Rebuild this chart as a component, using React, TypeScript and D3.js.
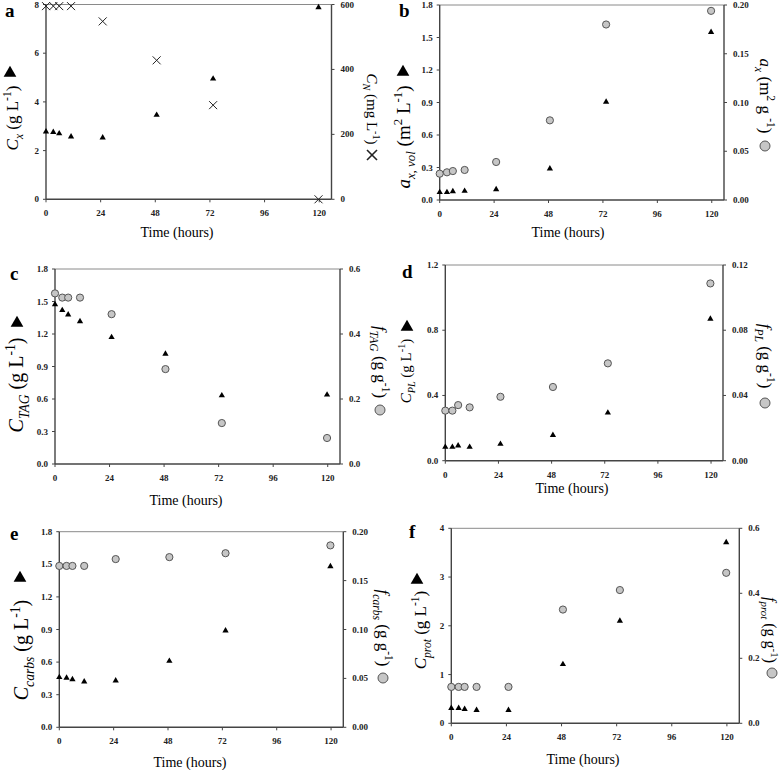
import React from "react";
import * as d3 from "d3";

// ---------- DATA ----------
const hours = [0, 3.2, 5.8, 11, 24.9, 48.6, 73.4, 119.7];
const xTicks = [0, 24, 48, 72, 96, 120];

// a
const biomassCx = [2.78, 2.76, 2.7, 2.57, 2.53, 3.46, 4.95, 7.88];
const nitrogenCN = [595, 595, 595, 595, 548, 428, 290, 0];
const aLeftTicks = [0, 2, 4, 6, 8];
const aRightTicks = [0, 200, 400, 600];
// b
const areaVol = [0.071, 0.071, 0.08, 0.083, 0.098, 0.29, 0.905, 1.55];
const areaSpecific = [0.027, 0.0284, 0.0297, 0.0308, 0.039, 0.0817, 0.18, 0.194];
const bLeftTicks = [0, 0.3, 0.6, 0.9, 1.2, 1.5, 1.8];
const bRightTicks = [0, 0.05, 0.1, 0.15, 0.2];
// c
const tagC = [1.474, 1.419, 1.379, 1.317, 1.17, 1.017, 0.632, 0.639];
const tagF = [0.525, 0.512, 0.512, 0.512, 0.461, 0.292, 0.126, 0.08];
const cLeftTicks = [0, 0.3, 0.6, 0.9, 1.2, 1.5, 1.8];
const cRightTicks = [0, 0.2, 0.4, 0.6];
// d
const plC = [0.084, 0.084, 0.092, 0.084, 0.102, 0.157, 0.294, 0.87];
const plF = [0.0307, 0.0307, 0.0341, 0.0327, 0.0392, 0.0452, 0.0597, 0.1087];
const dLeftTicks = [0, 0.4, 0.8, 1.2];
const dRightTicks = [0, 0.04, 0.08, 0.12];
// e
const carbsC = [0.46, 0.455, 0.44, 0.42, 0.43, 0.61, 0.89, 1.48];
const carbsF = [0.165, 0.165, 0.165, 0.165, 0.172, 0.174, 0.178, 0.186];
const eLeftTicks = [0, 0.3, 0.6, 0.9, 1.2, 1.5, 1.8];
const eRightTicks = [0, 0.05, 0.1, 0.15, 0.2];
// f
const protC = [0.31, 0.31, 0.29, 0.27, 0.27, 1.21, 2.1, 3.71];
const protF = [0.112, 0.112, 0.112, 0.112, 0.112, 0.35, 0.41, 0.463];
const fLeftTicks = [0, 1, 2, 3, 4];
const fRightTicks = [0, 0.2, 0.4, 0.6];

// ---------- STYLE ----------
const FONT = "'Liberation Serif', 'Times New Roman', Times, serif";
const AXIS = "#444";

type Part = { t: string; i?: boolean; sub?: boolean; sup?: boolean };

function Rich({ parts, fs }: { parts: Part[]; fs: number }) {
  let cur = 0;
  return (
    <>
      {parts.map((p, k) => {
        const target = p.sub ? 0.28 * fs : p.sup ? -0.4 * fs : 0;
        const dy = target - cur;
        cur = target;
        return (
          <tspan
            key={k}
            dy={dy}
            fontStyle={p.i ? "italic" : "normal"}
            fontSize={p.sub || p.sup ? fs * 0.68 : fs}
          >
            {p.t}
          </tspan>
        );
      })}
    </>
  );
}

const TRI = d3.symbol(d3.symbolTriangle);

function Panel(cfg: any) {
  const { box, leftDomain, rightDomain, leftTicks, rightTicks, leftFmt, rightFmt, left, right, rightMarker } = cfg;
  const x = d3.scaleLinear().domain([0, 125.4]).range([box.x0, box.x1]);
  const yL = d3.scaleLinear().domain(leftDomain).range([box.y1, box.y0]);
  const yR = d3.scaleLinear().domain(rightDomain).range([box.y1, box.y0]);
  const tri = TRI.size(17)() as string;
  const bigTri = TRI.size(70)() as string;
  return (
    <g fontFamily={FONT}>
      {/* frame */}
      <line x1={box.x0} x2={box.x1} y1={box.y0} y2={box.y0} stroke="#8a8a8a" strokeWidth={1} />
      <line x1={box.x0} x2={box.x1} y1={box.y1} y2={box.y1} stroke={AXIS} strokeWidth={1.4} />
      <line x1={box.x0} x2={box.x0} y1={box.y0} y2={box.y1} stroke={AXIS} strokeWidth={1.4} />
      <line x1={box.x1} x2={box.x1} y1={box.y0} y2={box.y1} stroke={AXIS} strokeWidth={1.4} />
      {/* x ticks */}
      {xTicks.map((t) => (
        <g key={"x" + t}>
          <line x1={x(t)} x2={x(t)} y1={box.y1} y2={box.y1 + 3} stroke={AXIS} />
          <text x={x(t)} y={box.y1 + 17} textAnchor="middle" fontSize={9} fontWeight="bold" fill="#222">
            {t}
          </text>
        </g>
      ))}
      {leftTicks.map((t: number) => (
        <g key={"l" + t}>
          <line x1={box.x0 - 3} x2={box.x0} y1={yL(t)} y2={yL(t)} stroke={AXIS} />
          <text x={box.x0 - 7} y={yL(t) + 3} textAnchor="end" fontSize={9} fontWeight="bold" fill="#222">
            {leftFmt(t)}
          </text>
        </g>
      ))}
      {rightTicks.map((t: number) => (
        <g key={"r" + t}>
          <line x1={box.x1} x2={box.x1 + 3} y1={yR(t)} y2={yR(t)} stroke={AXIS} />
          <text x={box.x1 + 9} y={yR(t) + 3} textAnchor="start" fontSize={9} fontWeight="bold" fill="#222">
            {rightFmt(t)}
          </text>
        </g>
      ))}
      {/* right series */}
      {right.map((v: number, k: number) =>
        rightMarker === "x" ? (
          <g key={"rv" + k} transform={`translate(${x(hours[k])},${yR(v)})`} stroke="#222" strokeWidth={1}>
            <line x1={-4} y1={-4} x2={4} y2={4} />
            <line x1={-4} y1={4} x2={4} y2={-4} />
          </g>
        ) : (
          <circle key={"rv" + k} cx={x(hours[k])} cy={yR(v)} r={3.6} fill="#c6c6c6" stroke="#555" strokeWidth={1} />
        )
      )}
      {/* left series */}
      {left.map((v: number, k: number) => (
        <path key={"lv" + k} d={tri} transform={`translate(${x(hours[k])},${yL(v)})`} fill="#000" />
      ))}
      {/* panel letter */}
      <text x={cfg.letter.x} y={cfg.letter.y} fontSize={19} fontWeight="bold">
        {cfg.letter.t}
      </text>
      {/* x title */}
      <text x={cfg.xTitle.x} y={cfg.xTitle.y} fontSize={14} textAnchor="middle">
        Time (hours)
      </text>
      {/* left title */}
      <text transform={`translate(${cfg.lt.x},${cfg.lt.y}) rotate(-90)`} textAnchor="middle">
        <Rich parts={cfg.lt.parts} fs={cfg.lt.fs} />
      </text>
      <path d={bigTri} transform={`translate(${cfg.lt.mx},${cfg.lt.my})`} fill="#000" />
      {/* right title */}
      <text transform={`translate(${cfg.rt.x},${cfg.rt.y}) rotate(90)`} textAnchor="middle">
        <Rich parts={cfg.rt.parts} fs={cfg.rt.fs} />
      </text>
      {rightMarker === "x" ? (
        <g transform={`translate(${cfg.rt.mx},${cfg.rt.my})`} stroke="#222" strokeWidth={1.6}>
          <line x1={-5} y1={-5} x2={5} y2={5} />
          <line x1={-5} y1={5} x2={5} y2={-5} />
        </g>
      ) : (
        <circle cx={cfg.rt.mx} cy={cfg.rt.my} r={5} fill="#c6c6c6" stroke="#555" strokeWidth={1} />
      )}
    </g>
  );
}

const f0 = (v: number) => d3.format("d")(v);
const f1 = (v: number) => v.toFixed(1);
const f2 = (v: number) => v.toFixed(2);

const gL: Part[] = [{ t: " (g L" }, { t: "-1", sup: true }, { t: ")" }];
const gg: Part[] = [{ t: " (g g" }, { t: "-1", sup: true }, { t: ")" }];

export default function App() {
  const panels = [
    {
      box: { x0: 46, x1: 331.5, y0: 4.5, y1: 199.3 },
      leftDomain: [0, 8], rightDomain: [0, 600], leftTicks: aLeftTicks, rightTicks: aRightTicks,
      leftFmt: f0, rightFmt: f0, left: biomassCx, right: nitrogenCN, rightMarker: "x",
      letter: { t: "a", x: 5, y: 17 }, xTitle: { x: 177, y: 237 },
      lt: { x: 18, y: 118, fs: 17, mx: 10, my: 73, parts: [{ t: "C", i: true }, { t: "x", i: true, sub: true }, ...gL] },
      rt: { x: 367, y: 109, fs: 15, mx: 372, my: 155, parts: [{ t: "C", i: true }, { t: "N", i: true, sub: true }, { t: " (mg L" }, { t: "-1", sup: true }, { t: ")" }] },
    },
    {
      box: { x0: 439.7, x1: 724, y0: 5, y1: 200 },
      leftDomain: [0, 1.8], rightDomain: [0, 0.2], leftTicks: bLeftTicks, rightTicks: bRightTicks,
      leftFmt: f1, rightFmt: f2, left: areaVol, right: areaSpecific, rightMarker: "o",
      letter: { t: "b", x: 399, y: 17 }, xTitle: { x: 568, y: 237 },
      lt: { x: 410, y: 137, fs: 19, mx: 403, my: 72, parts: [{ t: "a", i: true }, { t: "x, vol", i: true, sub: true }, { t: " (m" }, { t: "2", sup: true }, { t: " L" }, { t: "-1", sup: true }, { t: ")" }] },
      rt: { x: 760, y: 96, fs: 17, mx: 765, my: 146, parts: [{ t: "a", i: true }, { t: "x", i: true, sub: true }, { t: " (m" }, { t: "2", sup: true }, { t: " g " }, { t: "-1", sup: true }, { t: ")" }] },
    },
    {
      box: { x0: 55, x1: 340, y0: 269, y1: 464 },
      leftDomain: [0, 1.8], rightDomain: [0, 0.6], leftTicks: cLeftTicks, rightTicks: cRightTicks,
      leftFmt: f1, rightFmt: f1, left: tagC, right: tagF, rightMarker: "o",
      letter: { t: "c", x: 10, y: 280 }, xTitle: { x: 186, y: 505 },
      lt: { x: 23, y: 385, fs: 20, mx: 17, my: 323, parts: [{ t: "C", i: true }, { t: "TAG", i: true, sub: true }, ...gL] },
      rt: { x: 375, y: 362, fs: 17, mx: 380, my: 410, parts: [{ t: "f", i: true }, { t: "TAG", i: true, sub: true }, ...gg] },
    },
    {
      box: { x0: 445.3, x1: 723, y0: 265, y1: 460.7 },
      leftDomain: [0, 1.2], rightDomain: [0, 0.12], leftTicks: dLeftTicks, rightTicks: dRightTicks,
      leftFmt: f1, rightFmt: f2, left: plC, right: plF, rightMarker: "o",
      letter: { t: "d", x: 402, y: 278 }, xTitle: { x: 572, y: 493 },
      lt: { x: 411, y: 371, fs: 15, mx: 407, my: 327, parts: [{ t: "C", i: true }, { t: "PL", i: true, sub: true }, ...gL] },
      rt: { x: 760, y: 356, fs: 17, mx: 765, my: 403, parts: [{ t: "f", i: true }, { t: "PL", i: true, sub: true }, ...gg] },
    },
    {
      box: { x0: 59.3, x1: 343.3, y0: 531.7, y1: 727.3 },
      leftDomain: [0, 1.8], rightDomain: [0, 0.2], leftTicks: eLeftTicks, rightTicks: eRightTicks,
      leftFmt: f1, rightFmt: f2, left: carbsC, right: carbsF, rightMarker: "o",
      letter: { t: "e", x: 10, y: 540 }, xTitle: { x: 190, y: 767 },
      lt: { x: 28, y: 650, fs: 20, mx: 20, my: 578, parts: [{ t: "C", i: true }, { t: "carbs", i: true, sub: true }, ...gL] },
      rt: { x: 378, y: 628, fs: 17, mx: 383, my: 678, parts: [{ t: "f", i: true }, { t: "carbs", i: true, sub: true }, ...gg] },
    },
    {
      box: { x0: 451.3, x1: 739.3, y0: 528.3, y1: 723.3 },
      leftDomain: [0, 4], rightDomain: [0, 0.6], leftTicks: fLeftTicks, rightTicks: fRightTicks,
      leftFmt: f0, rightFmt: f1, left: protC, right: protF, rightMarker: "o",
      letter: { t: "f", x: 409, y: 538 }, xTitle: { x: 583, y: 764 },
      lt: { x: 426, y: 630, fs: 17, mx: 417, my: 580, parts: [{ t: "C", i: true }, { t: "prot", i: true, sub: true }, ...gL] },
      rt: { x: 765, y: 630, fs: 16, mx: 772, my: 673, parts: [{ t: "f", i: true }, { t: "prot", i: true, sub: true }, ...gg] },
    },
  ];
  return (
    <svg
      width={784}
      height={770}
      viewBox="0 0 784 770"
      style={{ position: "absolute", left: 0, top: 0, background: "#fff" }}
    >
      <rect width={784} height={770} fill="#fff" />
      {panels.map((p, i) => (
        <Panel key={i} {...p} />
      ))}
    </svg>
  );
}
